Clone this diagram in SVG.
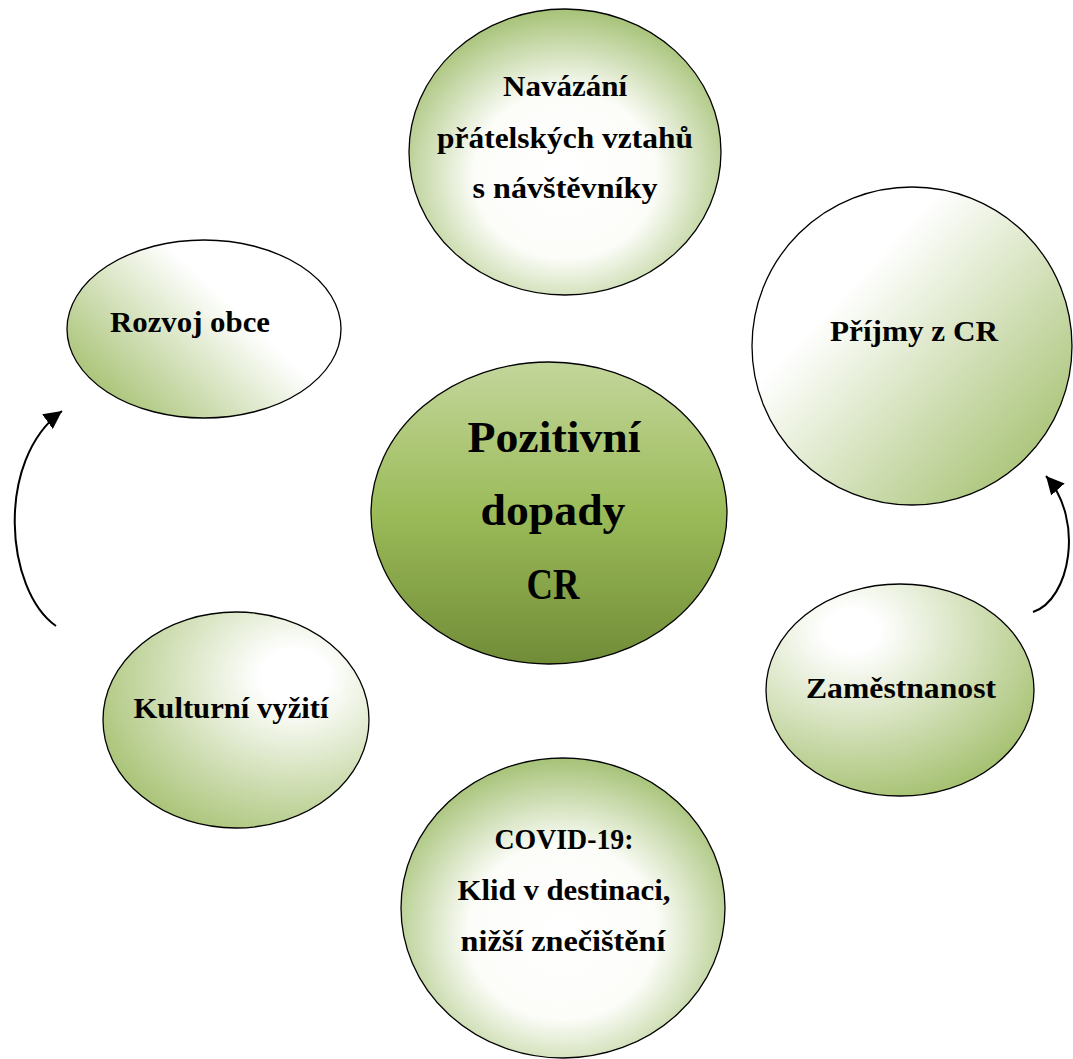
<svg xmlns="http://www.w3.org/2000/svg" width="1073" height="1059" viewBox="0 0 1073 1059">
  <style>
    .node { stroke: #000; stroke-width: 1.3; }
    .lbl { font-family: "Liberation Serif", "DejaVu Serif", serif; font-weight: bold; font-size: 29px; fill: #000; text-anchor: middle; }
    .big { font-size: 45px; }
    .conn { fill: none; stroke: #000; stroke-width: 2; }
  </style>
  <defs>
    <radialGradient id="gRadCenter" cx="0.5" cy="0.58" r="0.58">
      <stop offset="0" stop-color="#ffffff"/>
      <stop offset="0.5" stop-color="#fcfdf9"/>
      <stop offset="1" stop-color="#a6c277"/>
    </radialGradient>
    <linearGradient id="gRozvoj" x1="0.85" y1="0.3" x2="0.05" y2="0.85">
      <stop offset="0" stop-color="#ffffff"/>
      <stop offset="0.25" stop-color="#ffffff"/>
      <stop offset="1" stop-color="#a3bf6d"/>
    </linearGradient>
    <linearGradient id="gPrijmy" x1="0.2" y1="0.2" x2="0.95" y2="0.9">
      <stop offset="0" stop-color="#ffffff"/>
      <stop offset="0.15" stop-color="#ffffff"/>
      <stop offset="1" stop-color="#a3bf6d"/>
    </linearGradient>
    <radialGradient id="gKultura" cx="0.72" cy="0.3" r="0.85">
      <stop offset="0" stop-color="#ffffff"/>
      <stop offset="0.15" stop-color="#ffffff"/>
      <stop offset="1" stop-color="#a3bf6d"/>
    </radialGradient>
    <radialGradient id="gZam" cx="0.32" cy="0.22" r="0.85">
      <stop offset="0" stop-color="#ffffff"/>
      <stop offset="0.12" stop-color="#ffffff"/>
      <stop offset="1" stop-color="#a3bf6d"/>
    </radialGradient>
    <linearGradient id="gMain" x1="0" y1="0" x2="0" y2="1">
      <stop offset="0" stop-color="#c3d69b"/>
      <stop offset="0.5" stop-color="#9bbb59"/>
      <stop offset="1" stop-color="#718c37"/>
    </linearGradient>
    <marker id="arrow" markerUnits="userSpaceOnUse" markerWidth="20" markerHeight="18" refX="18" refY="9" orient="auto">
      <path d="M0,0 L18,9 L0,18 z" fill="#000"/>
    </marker>
  </defs>

  <g id="connectors">
    <path class="conn" d="M56,626 C5,590 -5,460 62,411" marker-end="url(#arrow)"/>
    <path class="conn" d="M1033,612 C1070,600 1085,520 1046,476" marker-end="url(#arrow)"/>
  </g>

  <g id="node-navazani">
    <ellipse class="node" cx="565" cy="152" rx="156" ry="143" fill="url(#gRadCenter)"/>
    <text class="lbl" x="565" y="96" textLength="124" lengthAdjust="spacingAndGlyphs">Navázání</text>
    <text class="lbl" x="565" y="148" textLength="256" lengthAdjust="spacingAndGlyphs">přátelských vztahů</text>
    <text class="lbl" x="565" y="198" textLength="185" lengthAdjust="spacingAndGlyphs">s návštěvníky</text>
  </g>

  <g id="node-rozvoj">
    <ellipse class="node" cx="204" cy="329" rx="137" ry="89" fill="url(#gRozvoj)"/>
    <text class="lbl" x="190" y="332" textLength="160" lengthAdjust="spacingAndGlyphs">Rozvoj obce</text>
  </g>

  <g id="node-prijmy">
    <ellipse class="node" cx="912" cy="346" rx="160" ry="159" fill="url(#gPrijmy)"/>
    <text class="lbl" x="914" y="341" textLength="168" lengthAdjust="spacingAndGlyphs">Příjmy z CR</text>
  </g>

  <g id="node-center">
    <ellipse class="node" cx="549" cy="513" rx="178" ry="151" fill="url(#gMain)"/>
    <text class="lbl big" x="554" y="452" textLength="173" lengthAdjust="spacingAndGlyphs">Pozitivní</text>
    <text class="lbl big" x="553" y="525" textLength="145" lengthAdjust="spacingAndGlyphs">dopady</text>
    <text class="lbl big" x="553" y="599" textLength="53" lengthAdjust="spacingAndGlyphs">CR</text>
  </g>

  <g id="node-kultura">
    <ellipse class="node" cx="236" cy="720" rx="133" ry="108" fill="url(#gKultura)"/>
    <text class="lbl" x="231" y="718" textLength="195" lengthAdjust="spacingAndGlyphs">Kulturní vyžití</text>
  </g>

  <g id="node-zamestnanost">
    <ellipse class="node" cx="900" cy="690" rx="134" ry="106" fill="url(#gZam)"/>
    <text class="lbl" x="901" y="698" textLength="190" lengthAdjust="spacingAndGlyphs">Zaměstnanost</text>
  </g>

  <g id="node-covid">
    <ellipse class="node" cx="563" cy="908" rx="162" ry="150" fill="url(#gRadCenter)"/>
    <text class="lbl" x="564" y="849" textLength="139" lengthAdjust="spacingAndGlyphs">COVID-19:</text>
    <text class="lbl" x="564" y="900" textLength="213" lengthAdjust="spacingAndGlyphs">Klid v destinaci,</text>
    <text class="lbl" x="563" y="951" textLength="205" lengthAdjust="spacingAndGlyphs">nižší znečištění</text>
  </g>
</svg>
